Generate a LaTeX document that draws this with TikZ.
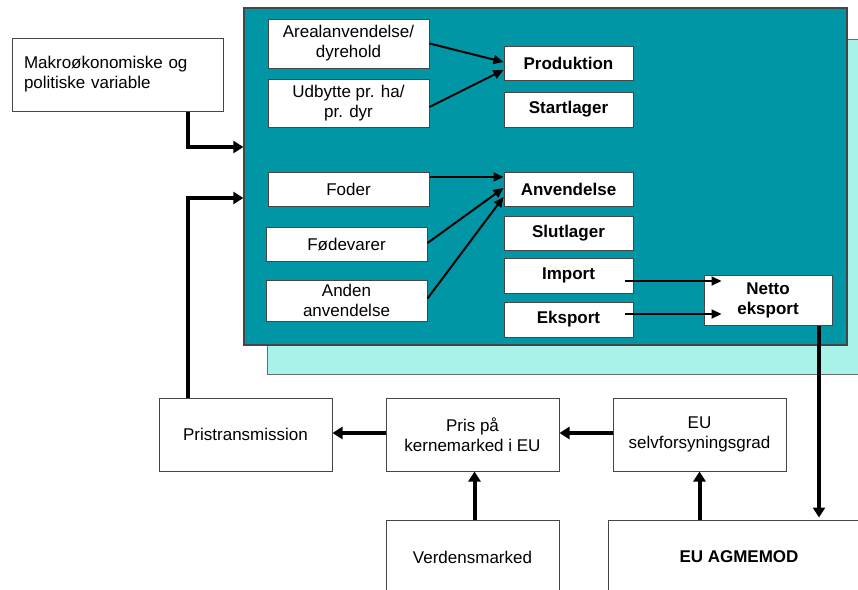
\documentclass[tikz,border=0pt]{standalone}
\usepackage{fontspec}
\setmainfont{Liberation Sans}
\usetikzlibrary{arrows.meta,calc}
\definecolor{teal1}{RGB}{0,150,166}
\definecolor{lcyan}{RGB}{168,242,234}
\definecolor{bord}{RGB}{70,70,70}
\tikzset{
  bx/.style={draw=bord,fill=white,line width=1pt,inner sep=0pt,align=center,
    font=\fontsize{17}{20}\selectfont},
  bbx/.style={bx,font=\fontsize{17}{20}\selectfont\bfseries},
  thin/.style={line width=2pt,-{Triangle[length=10pt,width=9pt]}},
  thick/.style={line width=4pt,-{Triangle[length=10pt,width=12pt]}},
}
\newcommand{\bxat}[7][bx]{% style, name, x1,x2,y1,y2, text
  \node[#1,minimum width={#5-#4},minimum height={#7-#6}] (#2) at ({(#4+#5)/2},{(#6+#7)/2}) {#3};}
\begin{document}
\begin{tikzpicture}[x=1pt,y=-1pt]
\useasboundingbox (0,0) rectangle (858,589);
\clip (0,0) rectangle (858,589);
\fill[white] (0,0) rectangle (858,589);
% background boxes
\node[draw=bord!80,fill=lcyan,line width=1pt,minimum width=603pt,minimum height=335pt,inner sep=0pt] (back) at (568.5,206.5) {};
\node[draw=bord,fill=teal1,line width=1.3pt,minimum width=603pt,minimum height=337pt,inner sep=0pt] (core) at (545.5,176.5) {};
% left column
\node[bx,align=left,text width=187pt,inner xsep=12pt,minimum height=73pt] (makro) at (117.5,74.5) {Makroøkonomiske og\\politiske variable};
\bxat{areal}{Arealanvendelse/\\dyrehold}{268}{429}{19}{68}
\bxat{udb}{Udbytte pr. ha/\\pr. dyr}{268}{429}{79}{127}
\bxat{foder}{Foder}{268}{429}{172}{206}
\bxat{fode}{Fødevarer}{266}{427}{227}{261}
\bxat{anden}{Anden\\anvendelse}{266}{427}{280}{321}
% right column
\bxat[bbx]{prod}{Produktion}{504}{633}{46}{80}
\bxat[bbx]{start}{Startlager}{504}{633}{92}{127}
\bxat[bbx]{anv}{Anvendelse}{504}{633}{172}{206}
\bxat[bbx]{slut}{Slutlager}{504}{633}{216}{250}
\bxat[bbx]{imp}{Import}{504}{633}{258}{293}
\bxat[bbx]{eks}{Eksport}{504}{633}{302}{337}
\bxat[bbx]{netto}{Netto\\eksport}{704}{832}{275}{325}
% bottom
\bxat{prist}{Pristransmission}{159}{332}{398}{471}
\bxat{pris}{Pris på\\kernemarked i EU}{386}{559}{398}{471}
\bxat{selv}{EU\\selvforsyningsgrad}{613}{786}{398}{471}
\bxat{verd}{Verdensmarked}{386}{559}{520}{594}
\bxat[bbx]{agm}{EU AGMEMOD}{608}{870}{520}{594}
% thin arrows
\draw[thin] (areal.east) -- ([yshift=1pt]prod.west);
\draw[thin] ([yshift=-4pt]udb.east) -- ([yshift=-7pt]prod.west);
\draw[thin] ([yshift=12pt]foder.east) -- ([yshift=12pt]anv.west);
\draw[thin] ([yshift=1pt]fode.east) -- ([yshift=1pt]anv.west);
\draw[thin] ([yshift=2pt]anden.east) -- ([yshift=-8pt]anv.west);
\draw[thin] ([xshift=-9pt,yshift=-5.5pt]imp.east) -- ([xshift=18pt,yshift=19pt]netto.west);
\draw[thin] ([xshift=-9pt,yshift=5.5pt]eks.east) -- ([xshift=18pt,yshift=-14pt]netto.west);
% thick arrows
\draw[thick] ([xshift=70.5pt]makro.south) |- ([yshift=29.5pt]core.west);
\draw[thick] ([xshift=-57.5pt]prist.north) |- ([yshift=-21.5pt]core.west);
\draw[thick] ([yshift=1.5pt]pris.west) -- ([yshift=1.5pt]prist.east);
\draw[thick] ([yshift=1.5pt]selv.west) -- ([yshift=1.5pt]pris.east);
\draw[thick] ([xshift=2pt]verd.north) -- ([xshift=2pt]pris.south);
\draw[thick] (selv.south |- agm.north) -- (selv.south);
\draw[thick] ([xshift=51pt]netto.south) -- ([xshift=51pt,yshift=2pt]netto.south |- agm.north);
\end{tikzpicture}
\end{document}
